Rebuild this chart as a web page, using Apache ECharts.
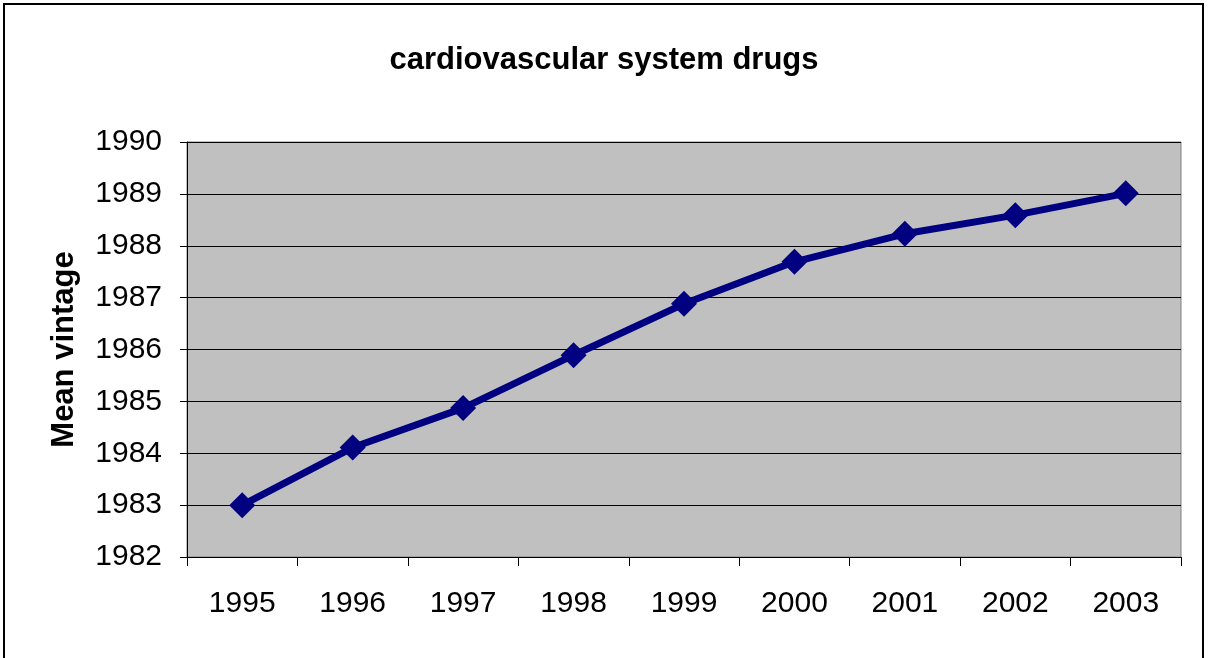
<!DOCTYPE html>
<html>
<head>
<meta charset="utf-8">
<script src="https://cdn.jsdelivr.net/npm/echarts@6/dist/echarts.min.js"></script>
<style>
html,body{margin:0;padding:0;background:#fff;}
#c{width:1208px;height:658px;}
</style>
</head>
<body>
<div id="c"></div>
<script>
const categories = ['1995','1996','1997','1998','1999','2000','2001','2002','2003'];
const meanVintage = [1983.0, 1984.11, 1984.87, 1985.89, 1986.88, 1987.69, 1988.23, 1988.59, 1989.01];
const yMin = 1982, yMax = 1990, yStep = 1;

const chart = echarts.init(document.getElementById('c'), null, {renderer:'canvas'});
const font = 'Liberation Sans, Arial, sans-serif';
chart.setOption({
  animation: false,
  backgroundColor: '#ffffff',
  title: {
    text: 'cardiovascular system drugs',
    left: 'center',
    top: 40,
    textStyle: {fontFamily: font, fontWeight: 'bold', fontSize: 31, color: '#000'}
  },
  graphic: [{
    type: 'rect',
    shape: {x: 4, y: 4, width: 1199, height: 670},
    style: {fill: null, stroke: '#000', lineWidth: 2},
    silent: true, z: 100
  }],
  grid: {left: 187, right: 27, top: 142, bottom: 101, show: true,
    backgroundColor: '#c0c0c0', borderColor: '#808080', borderWidth: 1},
  xAxis: {
    type: 'category',
    data: categories,
    boundaryGap: true,
    axisLine: {lineStyle: {color: '#000', width: 1}},
    axisTick: {show: true, length: 9, lineStyle: {color: '#000'}},
    axisLabel: {fontFamily: font, fontSize: 30, color: '#000', margin: 32},
    splitLine: {show: false}
  },
  yAxis: {
    type: 'value',
    min: yMin, max: yMax, interval: yStep,
    name: 'Mean vintage',
    nameLocation: 'middle',
    nameGap: 107,
    nameTextStyle: {fontFamily: font, fontWeight: 'bold', fontSize: 31, color: '#000'},
    axisLine: {show: true, lineStyle: {color: '#000', width: 1}},
    axisTick: {show: true, length: 7, lineStyle: {color: '#000'}},
    axisLabel: {fontFamily: font, fontSize: 30, color: '#000', margin: 25,
      formatter: v => String(v)},
    splitLine: {show: true, lineStyle: {color: '#000', width: 1}}
  },
  series: [{
    type: 'line',
    data: meanVintage,
    symbol: 'diamond',
    symbolSize: 26,
    lineStyle: {color: '#000080', width: 7},
    itemStyle: {color: '#000080'}
  }]
});
</script>
</body>
</html>
